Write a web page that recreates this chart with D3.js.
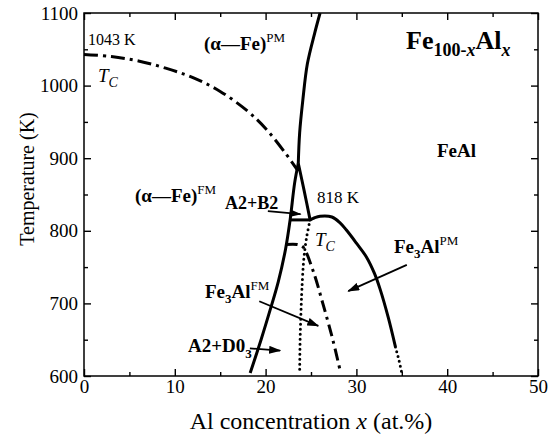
<!DOCTYPE html>
<html>
<head>
<meta charset="utf-8">
<script src="https://cdn.jsdelivr.net/npm/d3@7"></script>
<style>
body { margin: 0; background: #fff; }
svg { display: block; }
text { font-family: "Liberation Serif", "Times New Roman", serif; fill: #000; }
</style>
</head>
<body>
<div id="chart"></div>
<script>
// Axis ticks
var xTicks = [0, 10, 20, 30, 40, 50];
var xMinorTicks = [5, 15, 25, 35, 45];
var yTicks = [600, 700, 800, 900, 1000, 1100];
var yMinorTicks = [650, 750, 850, 950, 1050];

// Phase boundaries, points are [Al at.%, T (K)]
var tcAlphaFe = [[0, 1043], [3, 1040], [6, 1034], [9, 1024], [12, 1011], [15, 992], [18, 965], [20, 941], [22, 910], [23.6, 882]];
var alphaB2Lower = [[18.3, 604], [19.5, 650], [20.5, 691], [21.4, 730], [22.2, 775], [22.7, 815], [23.2, 866], [23.6, 893]];
var alphaB2Upper = [[23.6, 893], [23.75, 935], [24.1, 980], [24.6, 1030], [25.4, 1072], [26.0, 1100]];
var b2Wedge = [[23.6, 893], [24.25, 855], [24.9, 815]];
var eutectoid = [[22.75, 815], [24.9, 815]];
var d03Dome = [[24.9, 815], [25.4, 818], [26.0, 820], [27.3, 819], [28.2, 811], [28.9, 801], [30.0, 783], [31.1, 764], [32.0, 741], [32.6, 720], [33.5, 681], [34.3, 640]];
var d03DomeExt = [[34.3, 640], [34.7, 621], [35.0, 604]];
var tcFe3Al = [[22.2, 781], [23.5, 781], [24.1, 778], [25.2, 746], [26.3, 700], [27.4, 650], [28.2, 608]];
var orderTc = [[24.9, 815], [24.5, 790], [24.2, 760], [24.0, 720], [23.9, 690], [23.8, 650], [23.75, 604]];

// Arrows, [start, tip]
var arrows = [
    [[20.25, 827], [23.85, 823]],
    [[19.3, 703], [25.8, 669]],
    [[18.27, 638], [21.6, 635]],
    [[35.55, 753], [29.1, 717]]
];

// Define svg dimension
var svgWidth = 548;
var svgHeight = 442;

// Define chart margins
var marginTop = 13;
var marginLeft = 84;
var marginBottom = 66;
var marginRight = 10;

var chartWidth = svgWidth - marginLeft - marginRight;
var chartHeight = svgHeight - marginTop - marginBottom;

var svg = d3.select("#chart")
    .append("svg")
    .attr("width", svgWidth)
    .attr("height", svgHeight);

svg.append("defs").append("marker")
    .attr("id", "head")
    .attr("markerUnits", "userSpaceOnUse")
    .attr("markerWidth", 12)
    .attr("markerHeight", 8)
    .attr("refX", 11)
    .attr("refY", 4)
    .attr("orient", "auto")
    .append("path")
    .attr("d", "M0,0 L12,4 L0,8 Z")
    .attr("fill", "#000");

var chartGroup = svg.append("g")
    .attr("transform", `translate(${marginLeft}, ${marginTop})`);

// Scales
var xScale = d3.scaleLinear().domain([0, 50]).range([0, chartWidth]);
var yScale = d3.scaleLinear().domain([600, 1100]).range([chartHeight, 0]);

// Axes, ticks pointing inward on all four sides
function styleAxis(g) {
    g.select(".domain").remove();
    g.selectAll("line").attr("stroke", "#000").attr("stroke-width", 1.4);
    g.selectAll("text").attr("font-size", 19).attr("fill", "#000")
        .style("font-family", "'Liberation Serif', 'Times New Roman', serif");
}

chartGroup.append("g")
    .attr("transform", `translate(0,${chartHeight})`)
    .call(d3.axisBottom(xScale).tickValues(xTicks).tickSize(-7).tickPadding(4).tickFormat(d3.format("d")))
    .call(styleAxis);
chartGroup.append("g")
    .attr("transform", `translate(0,${chartHeight})`)
    .call(d3.axisBottom(xScale).tickValues(xMinorTicks).tickSize(-4).tickFormat(""))
    .call(styleAxis);
chartGroup.append("g")
    .call(d3.axisTop(xScale).tickValues(xTicks).tickSize(-7).tickFormat(""))
    .call(styleAxis);
chartGroup.append("g")
    .call(d3.axisTop(xScale).tickValues(xMinorTicks).tickSize(-4).tickFormat(""))
    .call(styleAxis);

chartGroup.append("g")
    .call(d3.axisLeft(yScale).tickValues(yTicks).tickSize(-7).tickPadding(6).tickFormat(d3.format("d")))
    .call(styleAxis);
chartGroup.append("g")
    .call(d3.axisLeft(yScale).tickValues(yMinorTicks).tickSize(-4).tickFormat(""))
    .call(styleAxis);
chartGroup.append("g")
    .attr("transform", `translate(${chartWidth},0)`)
    .call(d3.axisRight(yScale).tickValues(yTicks).tickSize(-7).tickFormat(""))
    .call(styleAxis);
chartGroup.append("g")
    .attr("transform", `translate(${chartWidth},0)`)
    .call(d3.axisRight(yScale).tickValues(yMinorTicks).tickSize(-4).tickFormat(""))
    .call(styleAxis);

chartGroup.append("rect")
    .attr("width", chartWidth)
    .attr("height", chartHeight)
    .attr("fill", "none")
    .attr("stroke", "#000")
    .attr("stroke-width", 1.5);

// Curves
var line = d3.line()
    .x(d => xScale(d[0]))
    .y(d => yScale(d[1]))
    .curve(d3.curveCatmullRom);

function drawCurve(data, width, dash, cap) {
    chartGroup.append("path")
        .datum(data)
        .attr("d", line)
        .attr("fill", "none")
        .attr("stroke", "#000")
        .attr("stroke-width", width)
        .attr("stroke-dasharray", dash || null)
        .attr("stroke-linecap", cap || "butt");
}

drawCurve(tcAlphaFe, 3, "14,5,3,5");
drawCurve(alphaB2Lower, 3);
drawCurve(alphaB2Upper, 3);
drawCurve(b2Wedge, 3);
drawCurve(eutectoid, 3);
drawCurve(d03Dome, 3);
drawCurve(d03DomeExt, 3, "0,5", "round");
drawCurve(tcFe3Al, 3, "12,5,3,5");
drawCurve(orderTc, 3, "0,5", "round");

chartGroup.selectAll(".arrow")
    .data(arrows)
    .enter()
    .append("line")
    .attr("x1", d => xScale(d[0][0]))
    .attr("y1", d => yScale(d[0][1]))
    .attr("x2", d => xScale(d[1][0]))
    .attr("y2", d => yScale(d[1][1]))
    .attr("stroke", "#000")
    .attr("stroke-width", 1.8)
    .attr("marker-end", "url(#head)");

// Labels (pixel position of text start and baseline)
var B = "bold", I = "italic";
var labels = [
    {x: 88, y: 45, parts: [{t: "1043 K", s: 16}]},
    {x: 98, y: 82, parts: [{t: "T", s: 19, st: I}, {t: "C", s: 14, st: I, dn: 5}]},
    {x: 204, y: 50, parts: [{t: "(α\u2014Fe)", s: 19, w: B}, {t: "PM", s: 13, dn: -8}]},
    {x: 406, y: 49, parts: [{t: "Fe", s: 26, w: B}, {t: "100-", s: 18, w: B, dn: 7}, {t: "x", s: 18, w: B, st: I, dn: 7}, {t: "Al", s: 26, w: B}, {t: "x", s: 18, w: B, st: I, dn: 7}]},
    {x: 437, y: 157, parts: [{t: "FeAl", s: 19, w: B}]},
    {x: 317, y: 203, parts: [{t: "818 K", s: 17}]},
    {x: 135, y: 202, parts: [{t: "(α\u2014Fe)", s: 19, w: B}, {t: "FM", s: 13, dn: -8}]},
    {x: 225, y: 209, parts: [{t: "A2+B2", s: 18, w: B}]},
    {x: 315, y: 246, parts: [{t: "T", s: 19, st: I}, {t: "C", s: 14, st: I, dn: 5}]},
    {x: 205, y: 298, parts: [{t: "Fe", s: 19, w: B}, {t: "3", s: 13, w: B, dn: 5}, {t: "Al", s: 19, w: B}, {t: "FM", s: 13, dn: -8}]},
    {x: 188, y: 352, parts: [{t: "A2+D0", s: 19, w: B}, {t: "3", s: 13, w: B, dn: 6}]},
    {x: 394, y: 253, parts: [{t: "Fe", s: 19, w: B}, {t: "3", s: 13, w: B, dn: 5}, {t: "Al", s: 19, w: B}, {t: "PM", s: 13, dn: -8}]}
];

labels.forEach(function(lab) {
    var txt = svg.append("text")
        .attr("x", lab.x)
        .attr("y", lab.y);
    var shift = 0;
    lab.parts.forEach(function(p) {
        var target = p.dn || 0;
        txt.append("tspan")
            .attr("dy", target - shift)
            .attr("font-size", p.s)
            .attr("font-weight", p.w || "normal")
            .attr("font-style", p.st || "normal")
            .text(p.t);
        shift = target;
    });
});

// Axis titles
svg.append("text")
    .attr("transform", "translate(34, 179) rotate(-90)")
    .attr("text-anchor", "middle")
    .attr("font-size", 20)
    .text("Temperature (K)");

var xTitle = svg.append("text")
    .attr("x", marginLeft + chartWidth / 2)
    .attr("y", 429)
    .attr("text-anchor", "middle")
    .attr("font-size", 24);
xTitle.append("tspan").text("Al concentration ");
xTitle.append("tspan").attr("font-style", "italic").text("x");
xTitle.append("tspan").text(" (at.%)");
</script>
</body>
</html>
